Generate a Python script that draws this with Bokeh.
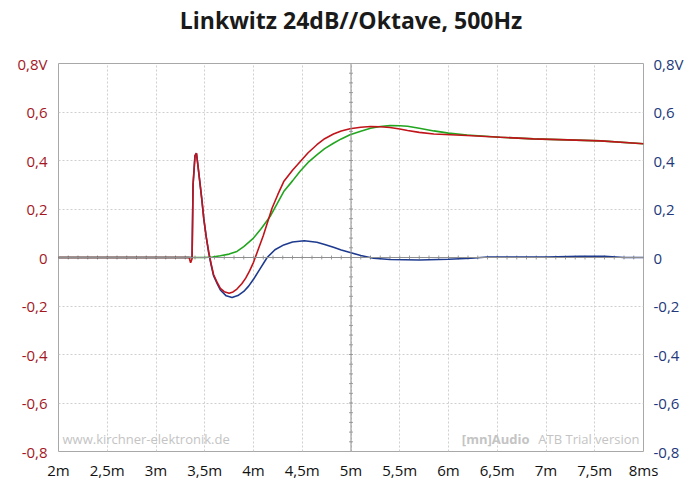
import numpy as np
from bokeh.plotting import figure
from bokeh.models import (Range1d, LinearAxis, FixedTicker, Label, Span, Title)
from bokeh.embed import file_html
from bokeh.resources import INLINE

# ---- data (time in ms, voltage in V) ----
red_t = [2.0, 3.0, 3.34, 3.355, 3.37, 3.38, 3.40, 3.415, 3.43, 3.45, 3.47, 3.49, 3.515, 3.54, 3.565,
         3.59, 3.63, 3.66, 3.70, 3.75, 3.79, 3.83, 3.88, 3.92, 3.96, 4.0, 4.05, 4.1, 4.19, 4.25,
         4.31, 4.4, 4.48, 4.56, 4.65, 4.73, 4.82, 4.9, 4.99, 5.1, 5.2, 5.3, 5.4, 5.5, 5.58, 5.7,
         5.85, 6.19, 6.53, 6.87, 7.22, 7.56, 8.0]
red_v = [0.0, 0.0, 0.0, -0.022, -0.005, 0.30, 0.42, 0.43, 0.38, 0.31, 0.24, 0.16, 0.085, 0.025, -0.025,
         -0.07, -0.105, -0.127, -0.141, -0.147, -0.142, -0.13, -0.108, -0.085, -0.055, -0.02, 0.035, 0.09, 0.203, 0.26,
         0.313, 0.36, 0.396, 0.432, 0.465, 0.49, 0.509, 0.522, 0.531, 0.537, 0.540, 0.539, 0.536, 0.530, 0.524, 0.516,
         0.509, 0.503, 0.496, 0.489, 0.485, 0.481, 0.469]

green_t = [2.0, 3.37, 3.5, 3.58, 3.66, 3.75, 3.83, 3.9, 3.95, 4.0, 4.08, 4.17, 4.24, 4.31, 4.4, 4.48,
           4.56, 4.65, 4.73, 4.82, 4.9, 4.99, 5.1, 5.2, 5.3, 5.4, 5.5, 5.58, 5.7, 5.85, 6.0, 6.19,
           6.53, 6.87, 7.22, 7.56, 8.0]
green_v = [0.0, 0.0, 0.0, 0.002, 0.007, 0.014, 0.025, 0.045, 0.062, 0.08, 0.12, 0.169, 0.22, 0.272, 0.316, 0.357,
           0.392, 0.423, 0.449, 0.471, 0.489, 0.506, 0.521, 0.533, 0.540, 0.544, 0.543, 0.541, 0.533, 0.522, 0.513, 0.505,
           0.496, 0.489, 0.485, 0.481, 0.469]

blue_t = [2.0, 3.37, 3.38, 3.40, 3.415, 3.43, 3.45, 3.47, 3.49, 3.515, 3.54, 3.565, 3.59, 3.63, 3.66,
          3.72, 3.78, 3.84, 3.9, 3.95, 4.0, 4.07, 4.14, 4.22, 4.31, 4.4, 4.52, 4.65, 4.73, 4.82, 4.9,
          5.0, 5.1, 5.23, 5.4, 5.7, 6.0, 6.23, 6.4, 7.0, 7.35, 7.6, 7.8, 8.0]
blue_v = [0.0, 0.0, 0.30, 0.42, 0.43, 0.38, 0.31, 0.24, 0.16, 0.085, 0.02, -0.03, -0.075, -0.11, -0.134,
          -0.158, -0.165, -0.157, -0.14, -0.118, -0.09, -0.045, 0.0, 0.032, 0.052, 0.064, 0.069, 0.063, 0.054, 0.042, 0.031,
          0.02, 0.008, -0.003, -0.008, -0.01, -0.007, -0.003, 0.002, 0.002, 0.005, 0.005, 0.0, 0.0]

x_ticks = [2, 2.5, 3, 3.5, 4, 4.5, 5, 5.5, 6, 6.5, 7, 7.5, 8]
x_labels = ["2m", "2,5m", "3m", "3,5m", "4m", "4,5m", "5m", "5,5m", "6m", "6,5m", "7m", "7,5m", "8ms"]
y_ticks = [-0.8, -0.6, -0.4, -0.2, 0, 0.2, 0.4, 0.6, 0.8]
y_labels = ["-0,8", "-0,6", "-0,4", "-0,2", "0", "0,2", "0,4", "0,6", "0,8V"]

title = "Linkwitz 24dB//Oktave, 500Hz"
FONT = "Open Sans"
RED_TXT = "#a3181f"
BLUE_TXT = "#23387a"

p = figure(title=None, frame_width=585, frame_height=388, output_backend="svg", toolbar_location=None,
           x_range=Range1d(2, 8), y_range=Range1d(-0.8, 0.8),
           min_border_left=58, min_border_right=40, min_border_top=62, min_border_bottom=0,
           y_axis_location=None, x_axis_location=None)
p.extra_y_ranges = {"r": Range1d(-0.8, 0.8)}

# spacer between frame and title, then the title itself (outermost)
p.add_layout(Title(text=" ", text_font_size="2px", standoff=19), "above")
p.add_layout(Title(text=title, align="center", vertical_align="top", text_font=FONT,
                   text_font_size="23px", text_font_style="bold", text_color="#1a1a1a",
                   text_line_height=1.0, standoff=6), "above")

p.outline_line_color = "#a8a8a8"
p.outline_line_width = 1
p.background_fill_color = "white"

xax = LinearAxis(ticker=FixedTicker(ticks=x_ticks))
xax.major_label_overrides = {t: l for t, l in zip(x_ticks, x_labels)}
lax = LinearAxis(ticker=FixedTicker(ticks=y_ticks))
lax.major_label_overrides = {t: l for t, l in zip(y_ticks, y_labels)}
rax = LinearAxis(ticker=FixedTicker(ticks=y_ticks), y_range_name="r")
rax.major_label_overrides = {t: l for t, l in zip(y_ticks, y_labels)}
for ax, col in ((xax, "#111111"), (lax, RED_TXT), (rax, BLUE_TXT)):
    ax.axis_line_color = None
    ax.major_tick_line_color = None
    ax.minor_tick_line_color = None
    ax.major_label_text_font = FONT
    ax.major_label_text_font_size = "15px"
    ax.major_label_text_color = col
    ax.major_label_standoff = 5
xax.major_label_standoff = 2
rax.major_label_standoff = 4
p.add_layout(xax, "below")
p.add_layout(lax, "left")
p.add_layout(rax, "right")

# grid
p.xgrid.ticker = FixedTicker(ticks=x_ticks)
p.ygrid.ticker = FixedTicker(ticks=y_ticks)
for g in (p.xgrid, p.ygrid):
    g.grid_line_color = "#cfcfcf"
    g.grid_line_dash = "2 2"
    g.grid_line_width = 1

# centre cross with small ticks
p.add_layout(Span(location=5, dimension="height", line_color="#8f8f8f", line_width=1))
p.add_layout(Span(location=0, dimension="width", line_color="#8f8f8f", line_width=1))
tx = np.arange(2.1, 8.0, 0.1)
p.segment(x0=tx, y0=np.full_like(tx, -0.008), x1=tx, y1=np.full_like(tx, 0.008),
          line_color="#9a9a9a", line_width=1)
ty = np.arange(-0.76, 0.8, 0.04)
p.segment(x0=np.full_like(ty, 4.98), y0=ty, x1=np.full_like(ty, 5.02), y1=ty,
          line_color="#9a9a9a", line_width=1)

# watermarks
p.add_layout(Label(x=2, y=-0.8, x_offset=4, y_offset=4, text="www.kirchner-elektronik.de",
                   text_font=FONT, text_font_size="13px", text_color="#c4c4c4",
                   text_baseline="bottom", text_align="left"))
p.add_layout(Label(x=8, y=-0.8, x_offset=-4, y_offset=4, text="ATB Trial version",
                   text_font=FONT, text_font_size="13px", text_color="#c4c4c4",
                   text_baseline="bottom", text_align="right"))
p.add_layout(Label(x=8, y=-0.8, x_offset=-114, y_offset=4, text="[mn]Audio",
                   text_font=FONT, text_font_size="13px", text_color="#c4c4c4",
                   text_font_style="bold", text_baseline="bottom", text_align="right"))

# curves
p.line(green_t, green_v, line_color="#22a51f", line_width=1.6)
p.line(blue_t, blue_v, line_color="#1d3a8f", line_width=1.6)
p.line(red_t, red_v, line_color="#c0141a", line_width=1.6)

open("out.html", "w").write(file_html(p, INLINE))
